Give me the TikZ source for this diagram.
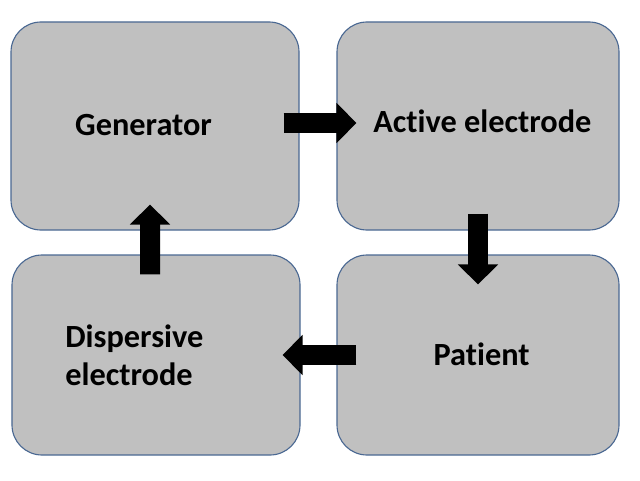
\documentclass[tikz,border=0pt]{standalone}
\usepackage{fontspec}
\setmainfont[Ligatures=NoCommon]{Carlito}
\usetikzlibrary{arrows.meta}
\definecolor{boxfill}{RGB}{192,192,192}
\definecolor{boxline}{RGB}{74,104,146}
\begin{document}
\begin{tikzpicture}[auto,
    stagebox/.style={rectangle,rounded corners=0.75cm,draw=boxline,fill=boxfill,line width=0.8pt,minimum height=5.2cm},
    stagetext/.style={font=\fontsize{23}{27}\selectfont\bfseries,inner sep=0pt},
    flowarrow/.style={draw=black,line width=0.5cm,-{Triangle[width=0.98cm,length=0.5cm]}}]
                    \useasboundingbox (0,0) rectangle (16,12);
                    \begin{scope}[every node/.style={stagebox}]
                        \node[minimum width=7.2cm] (gen) at (3.875,8.85) {};
                        \node[minimum width=7.05cm] (act) at (11.95,8.85) {};
                        \node[minimum width=7.2cm,minimum height=5cm] (disp) at (3.9,3.125) {};
                        \node[minimum width=7.05cm,minimum height=5cm] (pat) at (11.95,3.125) {};
                    \end{scope}
                    \begin{scope}[every node/.style={stagetext}]
                        \node (genT) at (3.59,8.88) {Generator};
                        \node (actT) at (12.06,8.97) {Active electrode};
                        \node[align=left] (dispT) at (3.36,3.12) {Dispersive\\electrode};
                        \node (patT) at (12.04,3.15) {Patient};
                    \end{scope}
                    \begin{scope}[every path/.style={flowarrow}]
                        \draw ([xshift=-0.4cm,yshift=0.075cm]gen.east) -- ([xshift=0.5cm,yshift=0.075cm]act.west);
                        \draw ([yshift=0.425cm]act.south) -- ([yshift=-0.75cm]pat.north);
                        \draw ([xshift=0.5cm]pat.west) -- ([xshift=-0.45cm]disp.east);
                        \draw ([xshift=-0.15cm,yshift=-0.5cm]disp.north) -- ([xshift=-0.125cm,yshift=0.65cm]gen.south);
                    \end{scope}
                \end{tikzpicture}
\end{document}
